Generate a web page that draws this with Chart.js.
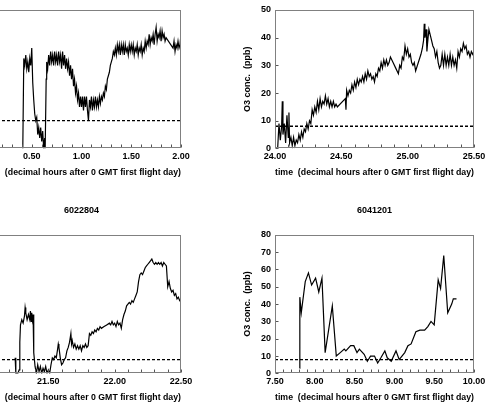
<!DOCTYPE html>
<html>
<head>
<meta charset="utf-8">
<script src="https://cdn.jsdelivr.net/npm/chart.js@4"></script>
<style>
  html, body { margin: 0; padding: 0; background: #fff; overflow: hidden; }
  body { width: 485px; height: 413px; position: relative; }
  canvas { position: absolute; }
</style>
</head>
<body>
<canvas id="tl" width="243" height="206" style="left:-51px;top:0"></canvas>
<canvas id="tr" width="243" height="206" style="left:242px;top:0"></canvas>
<canvas id="bl" width="243" height="213" style="left:-51px;top:200px"></canvas>
<canvas id="br" width="243" height="213" style="left:242px;top:200px"></canvas>
<script>
// ozone threshold (dashed line), ppb
const threshold = 8;
const xTitle = 'time  (decimal hours after 0 GMT first flight day)';
const yTitle = 'O3 conc.  (ppb)';

// top left panel (flight title cut off)
const tlTime = [0.41, 0.42, 0.43, 0.44, 0.45, 0.46, 0.47, 0.48, 0.49, 0.50, 0.51, 0.52, 0.53, 0.54, 0.55, 0.56, 0.57, 0.58, 0.59, 0.60,
  0.61, 0.62, 0.63, 0.635, 0.645, 0.65, 0.66, 0.67, 0.68, 0.69, 0.70, 0.71, 0.72, 0.73, 0.74, 0.75, 0.76, 0.77, 0.78, 0.79,
  0.80, 0.81, 0.82, 0.83, 0.84, 0.85, 0.86, 0.87, 0.88, 0.89, 0.90, 0.91, 0.92, 0.93, 0.94, 0.95, 0.96, 0.97, 0.98, 0.99,
  1.00, 1.01, 1.02, 1.03, 1.04, 1.05, 1.06, 1.07, 1.08, 1.09, 1.10, 1.11, 1.12, 1.13, 1.14, 1.15, 1.16, 1.17, 1.18, 1.19,
  1.20, 1.21, 1.22, 1.23, 1.24, 1.25, 1.26, 1.27, 1.28, 1.29, 1.30, 1.31, 1.32, 1.33, 1.34, 1.35, 1.36, 1.37, 1.38, 1.39,
  1.40, 1.41, 1.42, 1.43, 1.44, 1.45, 1.46, 1.47, 1.48, 1.49, 1.50, 1.51, 1.52, 1.53, 1.54, 1.55, 1.56, 1.57, 1.58, 1.59,
  1.60, 1.61, 1.62, 1.63, 1.64, 1.65, 1.66, 1.67, 1.68, 1.69, 1.70, 1.71, 1.72, 1.73, 1.74, 1.75, 1.76, 1.77, 1.78, 1.79,
  1.80, 1.81, 1.82, 1.83, 1.84, 1.85, 1.92, 1.93, 1.94, 1.95, 1.96, 1.97, 1.98, 1.99, 2.00];
const tlO3 = [0, 26, 24, 27, 23, 25, 22, 26, 24, 29, 19, 14, 10, 8, 9, 4, 6, 3, 6, 2,
  5, 0, 3, 0, 20, 25, 23, 27, 24, 28, 25, 27, 24, 28, 25, 27, 24, 28, 25, 27,
  23, 28, 24, 27, 23, 26, 23, 25, 21, 24, 20, 23, 18, 20, 16, 18, 14, 16, 12, 15,
  12, 15, 11, 15, 12, 15, 11, 8, 14, 12, 15, 11, 14, 12, 15, 12, 14, 12, 15, 13,
  15, 14, 16, 15, 18, 17, 20, 21, 22, 24, 25, 26, 28, 27, 29, 27, 30, 28, 30, 27,
  30, 28, 30, 27, 30, 28, 29, 27, 30, 28, 30, 28, 30, 27, 29, 28, 30, 27, 29, 28,
  30, 27, 29, 28, 31, 29, 31, 30, 33, 30, 32, 31, 33, 30, 33, 35, 31, 33, 32, 34,
  31, 34, 32, 33, 31, 32, 29, 31, 28, 30, 29, 31, 29, 30, 33];

// top right panel
const trTime = [24.02, 24.03, 24.04, 24.05, 24.055, 24.06, 24.07, 24.08, 24.09, 24.10, 24.105, 24.11, 24.12, 24.13, 24.14, 24.15, 24.16, 24.17, 24.18, 24.19,
  24.20, 24.21, 24.22, 24.23, 24.24, 24.25, 24.26, 24.27, 24.28, 24.29, 24.30, 24.31, 24.32, 24.33, 24.34, 24.35, 24.36, 24.37, 24.38, 24.39,
  24.40, 24.41, 24.42, 24.43, 24.44, 24.45, 24.46, 24.47, 24.53, 24.535, 24.54, 24.55, 24.56, 24.57, 24.58, 24.59, 24.60, 24.61, 24.62, 24.63,
  24.64, 24.65, 24.66, 24.67, 24.68, 24.69, 24.70, 24.71, 24.72, 24.73, 24.74, 24.75, 24.76, 24.77, 24.78, 24.79, 24.80, 24.81, 24.82, 24.83,
  24.84, 24.85, 24.86, 24.87, 24.89, 24.91, 24.93, 24.94, 24.95, 24.96, 24.97, 24.98, 24.99, 25.00, 25.01, 25.02, 25.03, 25.04, 25.05, 25.06,
  25.10, 25.11, 25.12, 25.125, 25.13, 25.14, 25.145, 25.15, 25.16, 25.17, 25.18, 25.19, 25.20, 25.21, 25.22, 25.23, 25.24, 25.25, 25.26, 25.27,
  25.28, 25.29, 25.30, 25.31, 25.32, 25.33, 25.34, 25.35, 25.36, 25.37, 25.38, 25.39, 25.40, 25.41, 25.42, 25.43, 25.44, 25.45, 25.46, 25.47,
  25.48, 25.49, 25.50];
const trO3 = [0, 9, 3, 8, 17, 5, 9, 2, 12, 4, 13, 2, 4, 1, 4, 1, 3, 2, 5, 3,
  6, 4, 7, 6, 9, 7, 10, 9, 14, 12, 15, 13, 17, 14, 18, 15, 17, 16, 19, 16,
  18, 15, 17, 15, 17, 15, 16, 15, 18, 14, 21, 19, 21, 20, 23, 21, 24, 22, 25, 23,
  25, 24, 26, 24, 27, 25, 28, 26, 27, 25, 26, 24, 27, 26, 29, 28, 31, 29, 32, 30,
  32, 30, 31, 33, 31, 29, 27, 30, 29, 33, 32, 37, 34, 36, 33, 34, 31, 30, 31, 28,
  34, 36, 39, 45, 40, 43, 35, 38, 43, 41, 39, 37, 36, 33, 35, 31, 29, 30, 34, 30,
  34, 30, 33, 30, 34, 30, 33, 30, 32, 29, 35, 33, 36, 35, 38, 36, 37, 34, 35, 33,
  35, 34, 35];

// bottom left panel, flight 6022804
const blTime = [21.25, 21.255, 21.27, 21.28, 21.285, 21.29, 21.30, 21.31, 21.32, 21.325, 21.33, 21.34, 21.35, 21.36, 21.365, 21.37, 21.375, 21.38, 21.385, 21.39,
  21.40, 21.41, 21.42, 21.43, 21.44, 21.45, 21.46, 21.47, 21.48, 21.49, 21.50, 21.51, 21.52, 21.53, 21.54, 21.55, 21.56, 21.57, 21.575, 21.58,
  21.59, 21.60, 21.61, 21.62, 21.63, 21.64, 21.65, 21.66, 21.67, 21.675, 21.68, 21.69, 21.70, 21.71, 21.72, 21.73, 21.74, 21.75, 21.76, 21.77,
  21.78, 21.79, 21.80, 21.81, 21.82, 21.83, 21.84, 21.85, 21.86, 21.87, 21.88, 21.89, 21.90, 21.92, 21.94, 21.96, 21.97, 21.98, 21.99, 22.00,
  22.01, 22.02, 22.03, 22.04, 22.05, 22.06, 22.07, 22.08, 22.09, 22.10, 22.11, 22.12, 22.13, 22.14, 22.15, 22.16, 22.17, 22.18, 22.19, 22.20,
  22.21, 22.22, 22.23, 22.24, 22.25, 22.26, 22.27, 22.28, 22.29, 22.30, 22.31, 22.32, 22.33, 22.34, 22.35, 22.36, 22.37, 22.38, 22.39, 22.40,
  22.41, 22.42, 22.43, 22.44, 22.45, 22.46, 22.47, 22.48, 22.49, 22.50];
const blO3 = [9, 0, 0, 2, 18, 28, 31, 29, 33, 38, 35, 31, 34, 31, 36, 30, 35, 31, 34, 12,
  4, 0, 5, 1, 4, 0, 3, 1, 4, 0, 2, 0, 5, 9, 8, 10, 9, 14, 17, 15,
  9, 5, 6, 8, 9, 13, 15, 18, 23, 17, 19, 15, 17, 14, 16, 14, 16, 13, 16, 15,
  17, 15, 16, 23, 22, 24, 23, 25, 24, 26, 25, 27, 26, 27, 28, 29, 28, 30, 28, 29,
  27, 30, 28, 29, 26, 31, 34, 36, 39, 40, 41, 40, 42, 41, 43, 45, 47, 53, 57, 58,
  57, 59, 61, 62, 63, 64, 65, 66, 64, 63, 64, 63, 64, 63, 64, 62, 64, 63, 62, 50,
  53, 49, 47, 48, 45, 46, 43, 44, 42, 43];

// bottom right panel, flight 6041201
const brTime = [7.81, 7.812, 7.83, 7.88, 7.92, 7.96, 8.01, 8.05, 8.09, 8.13, 8.22, 8.27, 8.32, 8.37, 8.39, 8.41, 8.45, 8.49, 8.53, 8.56,
  8.62, 8.66, 8.70, 8.75, 8.79, 8.83, 8.88, 8.91, 8.96, 9.02, 9.06, 9.13, 9.17, 9.21, 9.27, 9.32, 9.38, 9.42, 9.46, 9.50,
  9.55, 9.58, 9.62, 9.67, 9.72, 9.74, 9.78];
const brO3 = [3, 44, 35, 53, 58, 51, 55, 47, 55, 12, 39, 10, 12, 14, 13, 14, 16, 16, 12, 14,
  11, 7, 10, 10, 6, 9, 13, 9, 7, 13, 8, 12, 16, 17, 24, 25, 25, 27, 30, 28,
  54, 49, 68, 35, 40, 43, 43];

const font = { family: 'Liberation Sans', size: 9, weight: 'bold' };

// box round the plot plus short inward ticks
const framePlugin = {
  id: 'frame',
  afterDatasetsDraw(chart) {
    const { ctx, chartArea: a, scales: { x, y } } = chart;
    const l = Math.round(a.left) + 0.5, r = Math.round(a.right) - 0.5;
    const t = Math.round(a.top) + 0.5, b = Math.round(a.bottom) - 0.5;
    ctx.save();
    ctx.lineWidth = 1;
    ctx.strokeStyle = '#555';
    ctx.beginPath();
    const n = Math.round((x.max - x.min) / 0.1);
    for (let i = 0; i <= n; i++) {
      const px = Math.round(x.getPixelForValue(x.min + i * 0.1)) + 0.5;
      ctx.moveTo(px, b);
      ctx.lineTo(px, b - 3);
    }
    y.ticks.forEach(tk => {
      const py = Math.round(y.getPixelForValue(tk.value)) + 0.5;
      ctx.moveTo(l, py);
      ctx.lineTo(l + 3, py);
    });
    ctx.stroke();
    ctx.strokeStyle = '#808080';
    ctx.strokeRect(l, t, r - l, b - t);
    ctx.restore();
  }
};

function makePanel(id, times, values, xMin, xMax, yMax, title, bottomPad) {
  const series = times.map((t, i) => ({ x: t, y: values[i] }));
  new Chart(document.getElementById(id), {
    type: 'line',
    data: {
      datasets: [
        { data: series, borderColor: '#000', borderWidth: 1.2, pointRadius: 0, tension: 0 },
        { data: [{ x: xMin, y: threshold }, { x: xMax, y: threshold }], borderColor: '#000',
          borderWidth: 1.3, borderDash: [3, 2], pointRadius: 0 }
      ]
    },
    options: {
      responsive: false,
      animation: false,
      events: [],
      layout: { padding: { top: title ? 0 : 10, bottom: bottomPad, left: 0, right: 11 } },
      plugins: {
        legend: { display: false },
        tooltip: { enabled: false },
        title: { display: !!title, text: title, fullSize: false, color: '#000', font: font,
          padding: { top: 5, bottom: 19 } }
      },
      scales: {
        x: {
          type: 'linear', min: xMin, max: xMax,
          grid: { display: false, drawTicks: false }, border: { display: false },
          ticks: { stepSize: 0.5, padding: 3, color: '#000', font: font, maxRotation: 0, autoSkip: false,
            callback: v => v.toFixed(2) },
          title: { display: true, text: xTitle, color: '#000', font: font, padding: { top: 2, bottom: 0 } },
          // end labels may run past the canvas edge, as in the original
          afterFit: s => { s.paddingLeft = 0; s.paddingRight = 0; }
        },
        y: {
          min: 0, max: yMax,
          grid: { display: false, drawTicks: false }, border: { display: false },
          ticks: { stepSize: 10, padding: 4, color: '#000', font: font },
          title: { display: true, text: yTitle, color: '#000', font: font, padding: { top: 0, bottom: 0 } },
          afterFit: s => { s.width = 33; }
        }
      }
    },
    plugins: [framePlugin]
  });
}

makePanel('tl', tlTime, tlO3, 0, 2, 40, '', 28);
makePanel('tr', trTime, trO3, 24, 25.5, 50, '', 28);
makePanel('bl', blTime, blO3, 21, 22.5, 80, '6022804', 10);
makePanel('br', brTime, brO3, 7.5, 10, 80, '6041201', 10);
</script>
</body>
</html>
